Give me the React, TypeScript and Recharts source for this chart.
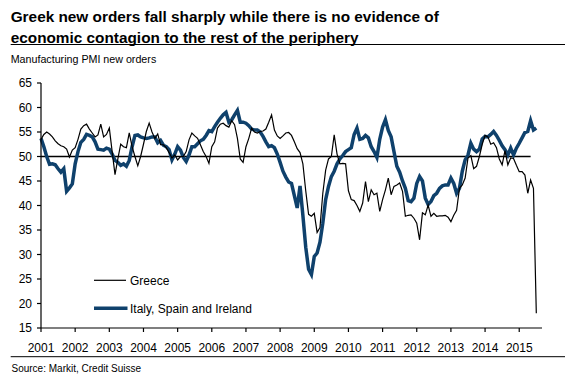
import React from 'react';
import { LineChart, Line, XAxis, YAxis, ReferenceLine } from 'recharts';

const yearLabels = ['2001','2002','2003','2004','2005','2006','2007','2008','2009','2010','2011','2012','2013','2014','2015'];
const yTicks = [15, 20, 25, 30, 35, 40, 45, 50, 55, 60, 65];

// Greece, monthly from Jan 2001 to Jul 2015
const greece = [
  53.5, 54.5, 55.0, 54.6, 54.0, 53.2, 52.6, 52.2, 52.0, 51.5, 49.9, 51.3,
  51.8, 53.5, 55.6, 56.3, 56.6, 55.6, 54.8, 54.0, 54.4, 56.6, 54.0, 54.5,
  55.8, 51.0, 46.3, 49.5, 52.5, 52.0, 51.8, 54.8, 52.0, 50.0, 48.1, 50.0,
  52.5, 55.1, 56.8, 55.0, 53.7, 54.6, 52.4, 52.4, 51.8, 50.8, 49.7, 50.3,
  49.3, 50.0, 50.0, 51.0, 53.4, 54.8, 54.2, 53.7, 52.4, 51.0, 50.0, 48.6,
  52.0, 53.0, 55.8, 56.6, 56.8, 56.3, 56.0, 57.3, 56.5, 53.7, 49.5, 48.8,
  52.0, 53.7, 55.8, 55.0, 54.8, 55.1, 55.2, 55.6, 57.0, 58.5, 55.4, 54.2,
  53.7, 54.2, 54.8, 54.9, 54.3, 53.0, 51.6, 50.8, 48.5, 43.0, 38.2, 37.8,
  38.4, 34.5, 35.5, 42.5, 47.2, 49.5, 50.0, 54.4, 50.5, 48.5, 48.6, 48.5,
  43.0, 41.2, 41.0, 40.0, 38.8, 40.5, 44.9, 40.8, 43.2, 42.2, 42.5, 38.8,
  41.2, 43.2, 45.6, 42.2, 43.9, 44.2, 44.6, 42.9, 37.8, 38.0, 38.1, 37.4,
  36.4, 33.0, 38.5, 38.1, 40.1, 37.8, 38.4, 37.8, 37.9, 37.9, 38.0, 37.6,
  36.7, 38.0, 39.0, 43.5, 44.2, 45.6, 49.7, 50.2, 47.5, 48.0, 50.0, 52.5,
  54.3, 54.0, 52.5, 52.8, 51.8, 49.5, 48.3, 51.2, 48.3, 49.7, 49.6, 48.2,
  46.9, 46.9, 46.2, 42.5, 45.2, 43.5, 18.0,
];

// Italy, Spain and Ireland, monthly from Jan 2001 to Jul 2015
const periphery = [
  53.7, 52.0, 50.0, 48.4, 48.5, 48.3, 47.5, 46.8, 47.5, 42.9, 43.6, 44.4,
  48.5, 51.0, 52.9, 53.5, 54.5, 54.3, 54.0, 53.0, 51.5, 51.4, 51.3, 51.7,
  51.5, 50.5, 49.2, 48.8, 48.2, 48.5, 48.0, 49.2, 52.0, 54.3, 54.4, 54.0,
  53.8, 53.7, 53.8, 54.0, 54.0, 52.8, 53.3, 52.3, 52.0, 51.4, 49.3, 50.5,
  52.0, 51.3, 49.8, 49.0, 50.3, 52.0, 52.0, 52.6, 53.2, 53.5, 54.3, 55.3,
  55.1, 56.1, 57.0, 57.8, 58.5, 59.0, 57.0, 57.5, 58.5, 59.4, 57.0, 57.0,
  56.8, 56.3, 55.6, 55.4, 55.4, 55.0, 54.1, 53.0, 52.0, 52.2, 51.8, 50.5,
  48.8, 47.0, 45.8, 44.8, 44.5, 42.0, 39.5, 44.0, 38.0, 31.5, 27.0, 25.9,
  29.6, 30.3, 32.5, 36.4, 41.2, 43.9, 45.9, 47.0, 48.5, 49.5, 50.2, 51.0,
  51.4, 51.8, 54.5, 55.8, 53.5, 53.7, 54.3, 53.8, 52.0, 51.0, 49.8, 53.5,
  56.0, 57.5, 55.3, 54.0, 51.0, 48.0, 46.8, 45.0, 43.5, 41.0, 40.8, 41.5,
  44.5, 45.9, 45.0, 41.5, 40.2, 40.8, 42.0, 42.5, 43.5, 44.0, 44.2, 44.2,
  45.6, 44.5, 42.5, 43.5, 47.0, 49.3, 50.3, 52.7, 51.5, 51.0, 51.5, 53.6,
  54.1, 54.0, 54.5, 55.1, 54.3, 53.3, 52.2, 51.4, 50.3, 51.7, 50.3, 51.7,
  52.7, 53.8, 54.9, 55.1, 57.3, 55.4, 55.8,
];

const data = greece.map((g, i) => ({ month: i, greece: g, periphery: periphery[i] }));
const xTicks = yearLabels.map((_, i) => i * 12);

const FONT = '"Liberation Sans", Arial, Helvetica, sans-serif';
const BLUE = '#0f416c';

export default function App() {
  return (
    <div style={{ position: 'absolute', left: 0, top: 0, width: 565, height: 377, background: '#fff', fontFamily: FONT }}>
      <svg width={565} height={377} style={{ position: 'absolute', left: 0, top: 0 }}>
        <text x={10.7} y={22.3} fontSize={15.35} fontWeight="bold" fontFamily={FONT} fill="#000">
          Greek new orders fall sharply while there is no evidence of
        </text>
        <text x={10.7} y={42.5} fontSize={15.35} fontWeight="bold" fontFamily={FONT} fill="#000">
          economic contagion to the rest of the periphery
        </text>
        <line x1={10.7} x2={565} y1={44.5} y2={44.5} stroke="#000" strokeWidth={1} />
        <text x={10.7} y={62.5} fontSize={10.7} fontFamily={FONT} fill="#000">Manufacturing PMI new orders</text>
        <line x1={10.7} x2={565} y1={356.7} y2={356.7} stroke="#000" strokeWidth={1} />
        <text x={11.5} y={371.5} fontSize={10} fontFamily={FONT} fill="#000">Source: Markit, Credit Suisse</text>
        <line x1={94} x2={126} y1={280.3} y2={280.3} stroke="#000" strokeWidth={1.2} />
        <text x={130} y={284.6} fontSize={12} fontFamily={FONT} fill="#000">Greece</text>
        <line x1={94} x2={127.5} y1={308.3} y2={308.3} stroke={BLUE} strokeWidth={3.5} />
        <text x={130} y={312.6} fontSize={12} fontFamily={FONT} fill="#000">Italy, Spain and Ireland</text>
      </svg>
      <div style={{ position: 'absolute', left: 0, top: 0 }}>
        <LineChart width={565} height={377} data={data} margin={{ top: 83, right: 23, bottom: 19, left: 0 }}>
          <XAxis
            type="number"
            dataKey="month"
            domain={[0, 176]}
            ticks={xTicks}
            interval={0}
            tickFormatter={(v: number) => yearLabels[Math.round(v / 12)]}
            height={30}
            tickSize={4}
            tickMargin={11}
            stroke="#000"
            tick={{ fill: '#000', fontSize: 12, fontFamily: FONT }}
            axisLine={{ stroke: '#000', strokeWidth: 1.2 }}
            tickLine={{ stroke: '#000', strokeWidth: 1.2 }}
          />
          <YAxis
            type="number"
            domain={[15, 65]}
            ticks={yTicks}
            interval={0}
            width={41}
            tickSize={4}
            tickMargin={5}
            stroke="#000"
            tick={{ fill: '#000', fontSize: 12, fontFamily: FONT }}
            axisLine={{ stroke: '#000', strokeWidth: 1.2 }}
            tickLine={{ stroke: '#000', strokeWidth: 1.2 }}
          />
          <ReferenceLine segment={[{ x: 0, y: 50 }, { x: 172, y: 50 }]} stroke="#000" strokeWidth={1.3} />
          <Line
            type="linear"
            dataKey="periphery"
            name="Italy, Spain and Ireland"
            stroke={BLUE}
            strokeWidth={3.5}
            dot={false}
            isAnimationActive={false}
          />
          <Line
            type="linear"
            dataKey="greece"
            name="Greece"
            stroke="#000"
            strokeWidth={1.2}
            dot={false}
            isAnimationActive={false}
          />
        </LineChart>
      </div>
    </div>
  );
}
